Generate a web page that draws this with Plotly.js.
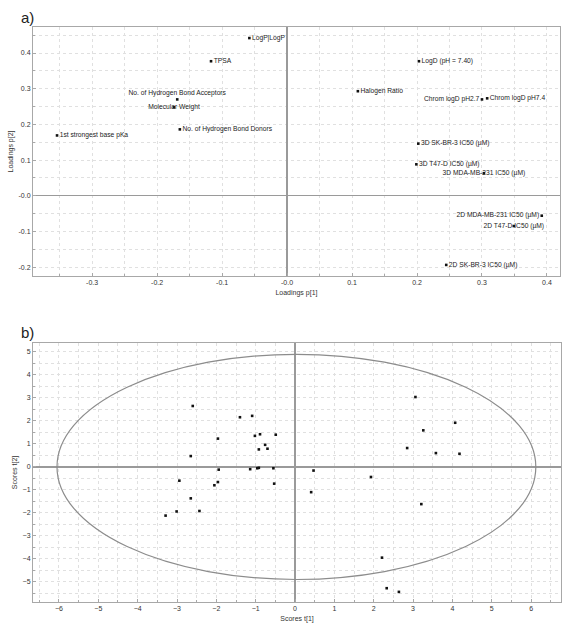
<!DOCTYPE html>
<html>
<head>
<meta charset="utf-8">
<script src="https://cdn.plot.ly/plotly-3.0.1.min.js"></script>
<style>html,body{margin:0;padding:0;background:#fff;}#chart{width:563px;height:623px;}</style>
</head>
<body>
<div id="chart"></div>
<script>
// ---- Data: loadings plot (a) ----
const loadLabels = [
  "LogP|LogP", "TPSA", "No. of Hydrogen Bond Acceptors", "Molecular Weight",
  "No. of Hydrogen Bond Donors", "1st strongest base pKa", "LogD (pH = 7.40)",
  "Halogen Ratio", "Chrom logD pH2.7", "Chrom logD pH7.4", "3D SK-BR-3 IC50 (µM)",
  "3D T47-D IC50 (µM)", "3D MDA-MB-231 IC50 (µM)", "2D MDA-MB-231 IC50 (µM)",
  "2D T47-D IC50 (µM)", "2D SK-BR-3 IC50 (µM)"
];
const loadP1 = [-0.058, -0.117, -0.169, -0.174, -0.165, -0.354, 0.203, 0.109, 0.300, 0.308, 0.202, 0.199, 0.303, 0.392, 0.349, 0.245];
const loadP2 = [0.442, 0.377, 0.270, 0.248, 0.186, 0.169, 0.377, 0.293, 0.270, 0.273, 0.146, 0.088, 0.063, -0.056, -0.085, -0.194];

const loadXTicks = [-0.3, -0.2, -0.1, 0, 0.1, 0.2, 0.3, 0.4];
const loadXTickText = ["-0.3", "-0.2", "-0.1", "-0.0", "0.1", "0.2", "0.3", "0.4"];
const loadYTicks = [-0.2, -0.1, 0, 0.1, 0.2, 0.3, 0.4];
const loadYTickText = ["-0.2", "-0.1", "-0.0", "0.1", "0.2", "0.3", "0.4"];

// ---- Data: scores plot (b) ----
const scoreT1 = [-2.60, -1.40, -1.09, -1.96, -1.02, -0.89, -0.49, -0.76, -0.70, -0.92, -2.65, -1.94, -1.14, -0.96, -0.92, -0.55,
  -2.94, -1.96, -2.05, -0.53, -2.65, -3.01, -2.43, -3.29, 3.06, 4.07, 3.26, 2.85, 3.58, 4.18, 0.47, 1.93, 0.41, 3.21, 2.21, 2.33, 2.64];
const scoreT2 = [2.65, 2.16, 2.22, 1.23, 1.35, 1.42, 1.40, 0.96, 0.79, 0.76, 0.47, -0.12, -0.10, -0.06, -0.04, -0.06,
  -0.60, -0.66, -0.80, -0.73, -1.37, -1.94, -1.92, -2.12, 3.04, 1.92, 1.59, 0.82, 0.60, 0.57, -0.16, -0.44, -1.10, -1.62, -3.95, -5.28, -5.44];
const ellipseT1 = [-6.05, 6.12];   // Hotelling T2 ellipse extent on t[1]
const ellipseT2 = [-4.9, 4.9];     // Hotelling T2 ellipse extent on t[2]

const scoreXTicks = [-6, -5, -4, -3, -2, -1, 0, 1, 2, 3, 4, 5, 6];
const scoreYTicks = [-5, -4, -3, -2, -1, 0, 1, 2, 3, 4, 5];

// ---- Styling ----
const labelPos = ["middle right", "middle right", "top center", "middle center", "middle right", "middle right",
  "middle right", "middle right", "middle left", "middle right", "middle right", "middle right",
  "middle center", "middle left", "middle center", "middle right"];

const FONT = "Liberation Sans, Arial, sans-serif";
const gridCol = "#e0e0e0";
const frameCol = "#a8a8a8";
const zeroCol = "#9a9a9a";

function axisBase(extra) {
  return Object.assign({
    showline: true, linecolor: frameCol, linewidth: 1, mirror: true,
    showgrid: true, gridcolor: gridCol, griddash: "dot", gridwidth: 1,
    zeroline: true, zerolinecolor: zeroCol, zerolinewidth: 1.5,
    ticks: "inside", ticklen: 3, tickcolor: frameCol,
    tickfont: {family: FONT, size: 7, color: "#333"},
    fixedrange: true
  }, extra);
}
function minorGrid(step) {
  return {dtick: step, tick0: 0, showgrid: true, gridcolor: gridCol, griddash: "dot", gridwidth: 1, ticks: "inside", ticklen: 2, tickcolor: frameCol};
}
const titleFont = {family: FONT, size: 7, color: "#333"};

const traces = [
  {
    type: "scatter", mode: "markers+text", x: loadP1, y: loadP2, text: loadLabels,
    textposition: labelPos, textfont: {family: FONT, size: 6.7, color: "#222"},
    marker: {size: 2.6, color: "#111", symbol: "square"},
    xaxis: "x", yaxis: "y", hoverinfo: "text", cliponaxis: false
  },
  {
    type: "scatter", mode: "markers", x: scoreT1, y: scoreT2,
    marker: {size: 2.6, color: "#111", symbol: "square"},
    xaxis: "x2", yaxis: "y2"
  }
];

const layout = {
  width: 563, height: 623,
  margin: {l: 33, r: 2, t: 27, b: 21},
  paper_bgcolor: "#fff", plot_bgcolor: "#fff",
  showlegend: false,
  font: {family: FONT, size: 7, color: "#333"},
  xaxis: axisBase({
    domain: [0, 0.998], anchor: "y", range: [-0.391, 0.42],
    tickvals: loadXTicks, ticktext: loadXTickText, minor: minorGrid(0.05),
    title: {text: "Loadings p[1]", font: titleFont, standoff: 4}
  }),
  yaxis: axisBase({
    domain: [0.567, 1], anchor: "x", range: [-0.225, 0.473],
    tickvals: loadYTicks, ticktext: loadYTickText, minor: minorGrid(0.05),
    title: {text: "Loadings p[2]", font: titleFont, standoff: 4}
  }),
  xaxis2: axisBase({
    domain: [0, 1], anchor: "y2", range: [-6.66, 6.76],
    tickvals: scoreXTicks, minor: minorGrid(0.5),
    title: {text: "Scores t[1]", font: titleFont, standoff: 4}
  }),
  yaxis2: axisBase({
    domain: [0, 0.4504], anchor: "x2", range: [-5.88, 5.39],
    tickvals: scoreYTicks, minor: minorGrid(0.5),
    title: {text: "Scores t[2]", font: titleFont, standoff: 4}
  }),
  shapes: [{
    type: "circle", xref: "x2", yref: "y2",
    x0: ellipseT1[0], x1: ellipseT1[1], y0: ellipseT2[0], y1: ellipseT2[1],
    line: {color: "#8c8c8c", width: 1.2}, fillcolor: "rgba(0,0,0,0)", layer: "above"
  }],
  annotations: [
    {text: "a)", xref: "paper", yref: "paper", x: -0.01, y: 1.0, xanchor: "center", yanchor: "bottom", yshift: -1, showarrow: false, font: {family: FONT, size: 15, color: "#222"}},
    {text: "b)", xref: "paper", yref: "paper", x: -0.01, y: 0.4504, xanchor: "center", yanchor: "bottom", yshift: 0, showarrow: false, font: {family: FONT, size: 15, color: "#222"}}
  ]
};

Plotly.newPlot("chart", traces, layout, {staticPlot: true, displayModeBar: false});
</script>
</body>
</html>
